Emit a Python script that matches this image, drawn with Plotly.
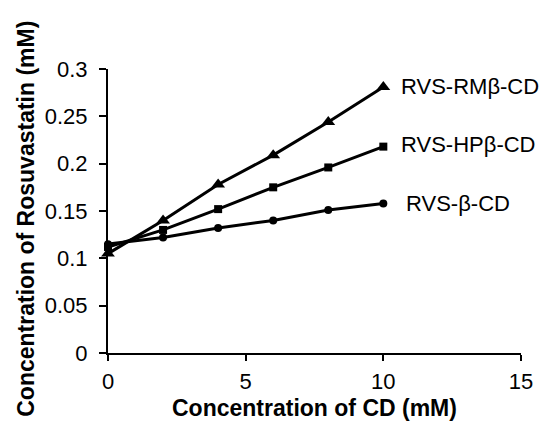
import plotly.graph_objects as go

cd_conc = [0, 2, 4, 6, 8, 10]
rvs_rm = [0.105, 0.140, 0.178, 0.209, 0.244, 0.281]
rvs_hp = [0.112, 0.130, 0.152, 0.175, 0.196, 0.218]
rvs_b = [0.115, 0.122, 0.132, 0.140, 0.151, 0.158]

labels = ["RVS-RMβ-CD", "RVS-HPβ-CD", "RVS-β-CD"]
label_x = [10.56, 10.56, 10.74]
label_y = [0.281, 0.220, 0.158]

x_title = "Concentration of CD (mM)"
y_title = "Concentration of Rosuvastatin (mM)"

FONT = "Liberation Sans, Arial, sans-serif"

fig = go.Figure()
series = [(rvs_rm, "triangle-up", 12), (rvs_hp, "square", 8), (rvs_b, "circle", 8)]
for ys, sym, sz in series:
    fig.add_trace(go.Scatter(
        x=cd_conc, y=ys, mode="lines+markers",
        line=dict(color="black", width=3),
        marker=dict(symbol=sym, size=sz, color="black"),
        showlegend=False, cliponaxis=False,
    ))

for t, lx, ly in zip(labels, label_x, label_y):
    fig.add_annotation(x=lx, y=ly, text=t, showarrow=False, xanchor="left",
                       yanchor="middle", font=dict(family=FONT, size=22, color="black"))

fig.add_annotation(xref="paper", yref="paper", x=0.5, y=-0.195, text="<b>" + x_title + "</b>",
                   showarrow=False, xanchor="center", yanchor="middle",
                   font=dict(family=FONT, size=23, color="black"))
fig.add_annotation(xref="paper", yref="paper", x=-0.199, y=0.472, text="<b>" + y_title + "</b>",
                   showarrow=False, xanchor="center", yanchor="middle", textangle=-90,
                   font=dict(family=FONT, size=23, color="black"))

fig.update_layout(
    width=545, height=425,
    margin=dict(l=108, r=15, t=69, b=72),
    paper_bgcolor="white", plot_bgcolor="white",
    font=dict(family=FONT, color="black"),
)
fig.update_xaxes(
    range=[0, 15], dtick=5, tick0=0,
    showline=True, linecolor="black", linewidth=2,
    ticks="outside", ticklen=6, tickwidth=2, tickcolor="black",
    showgrid=False, zeroline=False, ticklabelstandoff=2,
    tickfont=dict(family=FONT, size=22, color="black"),
)
fig.update_yaxes(
    range=[0, 0.3], dtick=0.05, tick0=0,
    showline=True, linecolor="black", linewidth=2,
    ticks="outside", ticklen=7, tickwidth=2, tickcolor="black",
    showgrid=False, zeroline=False, ticklabelstandoff=7,
    tickfont=dict(family=FONT, size=22, color="black"),
)

fig.write_html("out.html")
